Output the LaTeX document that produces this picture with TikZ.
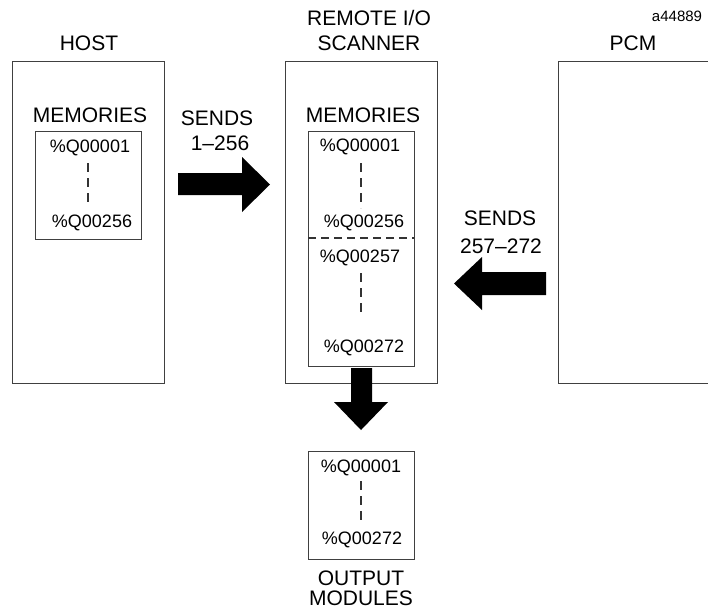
\documentclass[tikz,border=0pt]{standalone}
\usepackage{fontspec}
\setmainfont{Liberation Sans}
\begin{document}
\begin{tikzpicture}[x=1pt,y=-1pt,
  box/.style={draw=black!75,line width=1pt,rectangle,inner sep=0pt,anchor=center},
  lbl/.style={font=\fontsize{21}{24}\selectfont,inner sep=0pt,anchor=center},
  entry/.style={font=\fontsize{18}{21}\selectfont,inner sep=0pt,anchor=center},
  small/.style={font=\fontsize{15}{18}\selectfont,inner sep=0pt,anchor=center},
  vdash/.style={draw=black!80,line width=1.1pt,dash pattern=on 9pt off 6pt},
  hdash/.style={draw=black!80,line width=1.1pt,dash pattern=on 8pt off 5pt},
  blk/.style={fill=black,draw=none}]
\useasboundingbox (0,0) rectangle (708,611);

% boxes
\node[box,minimum width=152pt,minimum height=322pt] (host) at (88,222) {};
\node[box,minimum width=106pt,minimum height=108pt] (hmem) at (88,185) {};
\node[box,minimum width=152pt,minimum height=322pt] (scan) at (361,222) {};
\node[box,minimum width=106pt,minimum height=235pt] (smem) at (361,248.5) {};
\node[box,minimum width=170pt,minimum height=322pt] (pcm) at (643,222) {};
\node[box,minimum width=106pt,minimum height=108pt] (out) at (361,505) {};

% titles
\node[small] (id) at (677,16) {a44889};
\node[lbl] (thost) at (89,43) {HOST};
\node[lbl] (tscan1) at (369,18) {REMOTE I/O};
\node[lbl] (tscan2) at (369,43) {SCANNER};
\node[lbl] (tpcm) at (633,43) {PCM};
\node[lbl] (tout1) at (361,578) {OUTPUT};
\node[lbl] (tout2) at (361,598) {MODULES};

% memories labels
\node[lbl] (hmemt) at (90,115) {MEMORIES};
\node[lbl] (smemt) at (363,115) {MEMORIES};

% host entries
\node[entry] (h1) at (90,148) {\%Q00001};
\node[entry] (h2) at (92,223) {\%Q00256};
\coordinate (hd1) at (88,163);
\coordinate (hd2) at (88,205);
\draw[vdash] (hd1) -- (hd2);

% scanner entries
\node[entry] (s1) at (360,147) {\%Q00001};
\node[entry] (s2) at (364,223) {\%Q00256};
\node[entry] (s3) at (360,258) {\%Q00257};
\node[entry] (s4) at (364,348) {\%Q00272};
\coordinate (sd1) at (361,163);
\coordinate (sd2) at (361,208);
\coordinate (sd3) at (361,273);
\coordinate (sd4) at (361,316);
\draw[vdash] (sd1) -- (sd2);
\draw[vdash] (sd3) -- (sd4);
\coordinate (div1) at (308,238);
\coordinate (div2) at (414,238);
\draw[hdash] (div1) -- (div2);

% output entries
\node[entry] (o1) at (361,468) {\%Q00001};
\node[entry] (o2) at (362,540) {\%Q00272};
\coordinate (od1) at (361,481);
\coordinate (od2) at (361,524);
\draw[vdash] (od1) -- (od2);

% send labels
\node[lbl] (snd1) at (217,118) {SENDS};
\node[lbl] (snd1b) at (220,143) {1--256};
\node[lbl] (snd2) at (500,218) {SENDS};
\node[lbl] (snd2b) at (501,246) {257--272};

% block arrows
\fill[blk] (178,173) -- (242,173) -- (242,157) -- (270,184.5) -- (242,212) -- (242,195) -- (178,195) -- cycle;
\fill[blk] (546,272) -- (482,272) -- (482,257) -- (454,283.5) -- (482,310) -- (482,295) -- (546,295) -- cycle;
\fill[blk] (351,368) -- (372,368) -- (372,402) -- (388,402) -- (361,430) -- (334,402) -- (351,402) -- cycle;
\end{tikzpicture}
\end{document}
